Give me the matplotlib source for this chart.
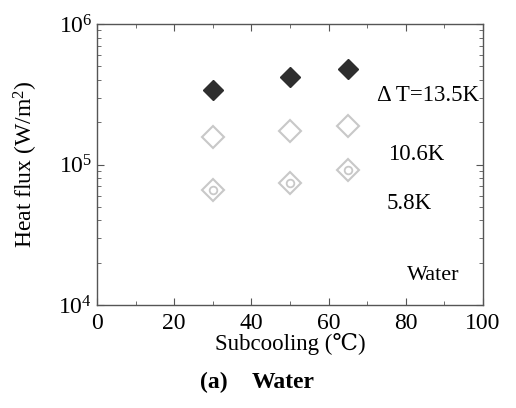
import matplotlib
matplotlib.use("Agg")
import matplotlib.pyplot as plt
from matplotlib.ticker import LogLocator, MultipleLocator, LogFormatterMathtext, NullFormatter

plt.rcParams['font.family'] = ['Liberation Serif', 'DejaVu Serif']
plt.rcParams['mathtext.fontset'] = 'custom'
plt.rcParams['mathtext.rm'] = 'Liberation Serif'
plt.rcParams['mathtext.it'] = 'Liberation Serif:italic'
plt.rcParams['mathtext.bf'] = 'Liberation Serif:bold'

subcooling = [30, 50, 65]
q_13_5 = [3.4e5, 4.2e5, 4.8e5]
q_10_6 = [1.57e5, 1.73e5, 1.88e5]
q_5_8 = [6.6e4, 7.4e4, 9.1e4]
labels = ["\u0394 T=13.5K", "10.6K", "5.8K"]

fig = plt.figure(figsize=(5.16, 4.08), dpi=100)
ax = fig.add_axes([0.188, 0.2525, 0.748, 0.6885])

ax.plot(subcooling, q_13_5, 'D', ms=10.5, color='#2e2e2e', mec='#2e2e2e', ls='none')
ax.plot(subcooling, q_10_6, 'D', ms=11, mfc='none', mec='#c8c8c8', mew=1.5, ls='none')
ax.plot(subcooling, q_5_8, 'D', ms=11, mfc='none', mec='#c8c8c8', mew=1.5, ls='none')
ax.plot(subcooling, q_5_8, 'o', ms=5.5, mfc='none', mec='#c8c8c8', mew=1.3, ls='none')

ax.set_yscale('log')
ax.set_xlim(0, 100)
ax.set_ylim(1e4, 1e6)
ax.xaxis.set_major_locator(MultipleLocator(20))
ax.xaxis.set_minor_locator(MultipleLocator(10))
ax.yaxis.set_major_locator(LogLocator(base=10, numticks=5))
ax.yaxis.set_minor_locator(LogLocator(base=10, subs=range(2, 10), numticks=20))
ax.yaxis.set_major_formatter(LogFormatterMathtext())
ax.yaxis.set_minor_formatter(NullFormatter())
ax.tick_params(which='both', direction='in', top=True, right=True, color='#555555')
ax.tick_params(which='major', length=5, labelsize=17)
ax.tick_params(axis='x', which='major', pad=6)
ax.tick_params(which='minor', length=3)
for s in ax.spines.values():
    s.set_color('#555555')
    s.set_linewidth(1.0)

ax.text(0.99, 0.745, labels[0], transform=ax.transAxes, ha='right', va='center', fontsize=16.5)
ax.text(0.755, 0.535, labels[1], transform=ax.transAxes, ha='left', va='center', fontsize=16.5)
ax.text(0.75, 0.36, labels[2], transform=ax.transAxes, ha='left', va='center', fontsize=16.5)
ax.text(0.94, 0.105, "Water", transform=ax.transAxes, ha='right', va='center', fontsize=16)

ax.set_xlabel("Subcooling (\u2103)", fontsize=16.5, labelpad=-1)
ax.set_ylabel("Heat flux (W/m$^2$)", fontsize=17, labelpad=13)

fig.text(214 / 516, 1 - 382 / 408, "(a)", ha='center', va='center', fontsize=17, fontweight='bold')
fig.text(252 / 516, 1 - 382 / 408, "Water", ha='left', va='center', fontsize=17, fontweight='bold')

fig.savefig("out.png", dpi=100)
